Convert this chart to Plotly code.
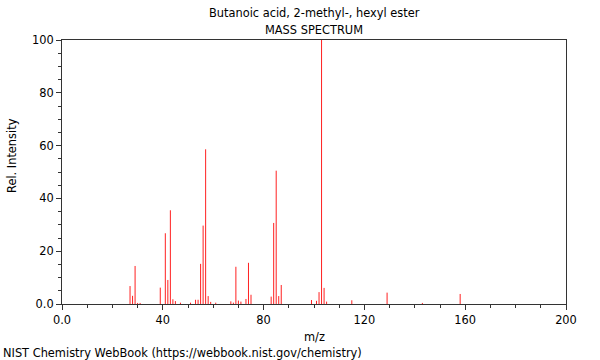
import plotly.graph_objects as go

mz = [27, 28, 29, 30, 31, 39, 41, 42, 43, 44, 45, 47, 51, 53, 54, 55, 56, 57, 58, 59, 61,
      67, 68, 69, 70, 71, 73, 74, 75, 83, 84, 85, 86, 87, 99, 101, 102, 103, 104, 105,
      115, 129, 143, 158]
intensity = [6.8, 3.1, 14.4, 0.4, 0.4, 6.2, 26.8, 9.1, 35.5, 1.8, 1.1, 0.5, 0.5, 1.6, 1.6,
             15.2, 29.7, 58.6, 3.0, 0.8, 0.5, 1.0, 0.5, 14.1, 1.3, 0.9, 1.9, 15.6, 3.5, 2.8,
             30.7, 50.5, 3.0, 7.2, 1.5, 1.2, 4.5, 100.0, 6.1, 0.9, 1.4, 4.3, 0.4, 3.8]

x_ticks = [0, 40, 80, 120, 160, 200]
x_ticktext = ["0.0", "40", "80", "120", "160", "200"]
y_ticks = [0, 20, 40, 60, 80, 100]
y_ticktext = ["0.0", "20", "40", "60", "80", "100"]

title1 = "Butanoic acid, 2-methyl-, hexyl ester"
title2 = "MASS SPECTRUM"
footer = "NIST Chemistry WebBook (https://webbook.nist.gov/chemistry)"

xs, ys = [], []
for m, v in zip(mz, intensity):
    xs += [m, m, None]
    ys += [0, v, None]

FONT = "DejaVu Sans"
FS = 11.4
AX = "#333333"

fig = go.Figure()
fig.add_trace(go.Scatter(x=xs, y=ys, mode="lines",
                         line=dict(color="#ff2020", width=1),
                         hoverinfo="skip", showlegend=False))

axis_common = dict(showline=True, linecolor=AX, linewidth=1, mirror=True,
                   showgrid=False, zeroline=False, ticks="outside", ticklen=5,
                   tickcolor=AX, tickwidth=1,
                   tickfont=dict(family=FONT, size=FS, color="#000"))

fig.update_layout(
    width=600, height=360,
    margin=dict(l=62, r=34, t=40, b=56),
    paper_bgcolor="white", plot_bgcolor="white",
    font=dict(family=FONT, size=FS, color="#000"),
    xaxis=dict(range=[0, 200], tickmode="array", tickvals=x_ticks, ticktext=x_ticktext,
               minor=dict(dtick=10, tick0=0, ticks="outside", ticklen=3, tickcolor=AX),
               **axis_common),
    yaxis=dict(range=[0, 100], tickmode="array", tickvals=y_ticks, ticktext=y_ticktext,
               minor=dict(dtick=5, tick0=0, ticks="outside", ticklen=3, tickcolor=AX),
               **axis_common),
    annotations=[
        dict(text=title1, xref="paper", yref="paper", x=0.5, y=(304 - 13) / 264,
             xanchor="center", yanchor="middle", showarrow=False,
             font=dict(family=FONT, size=FS)),
        dict(text=title2, xref="paper", yref="paper", x=0.5, y=(304 - 30) / 264,
             xanchor="center", yanchor="middle", showarrow=False,
             font=dict(family=FONT, size=FS)),
        dict(text="m/z", xref="paper", yref="paper", x=0.5, y=(304 - 337) / 264,
             xanchor="center", yanchor="middle", showarrow=False,
             font=dict(family=FONT, size=FS)),
        dict(text="Rel. Intensity", xref="paper", yref="paper", x=(12 - 62) / 504,
             y=(304 - 156) / 264, xanchor="center", yanchor="middle", textangle=-90,
             showarrow=False, font=dict(family=FONT, size=FS)),
        dict(text=footer, xref="paper", yref="paper", x=(1 - 62) / 504,
             y=(304 - 353) / 264, xanchor="left", yanchor="middle", showarrow=False,
             font=dict(family=FONT, size=FS)),
    ],
)

fig.write_html("out.html",
               config={"displayModeBar": False},
               post_script="document.body.style.margin='0px';"
                           "document.body.style.overflow='hidden';")
